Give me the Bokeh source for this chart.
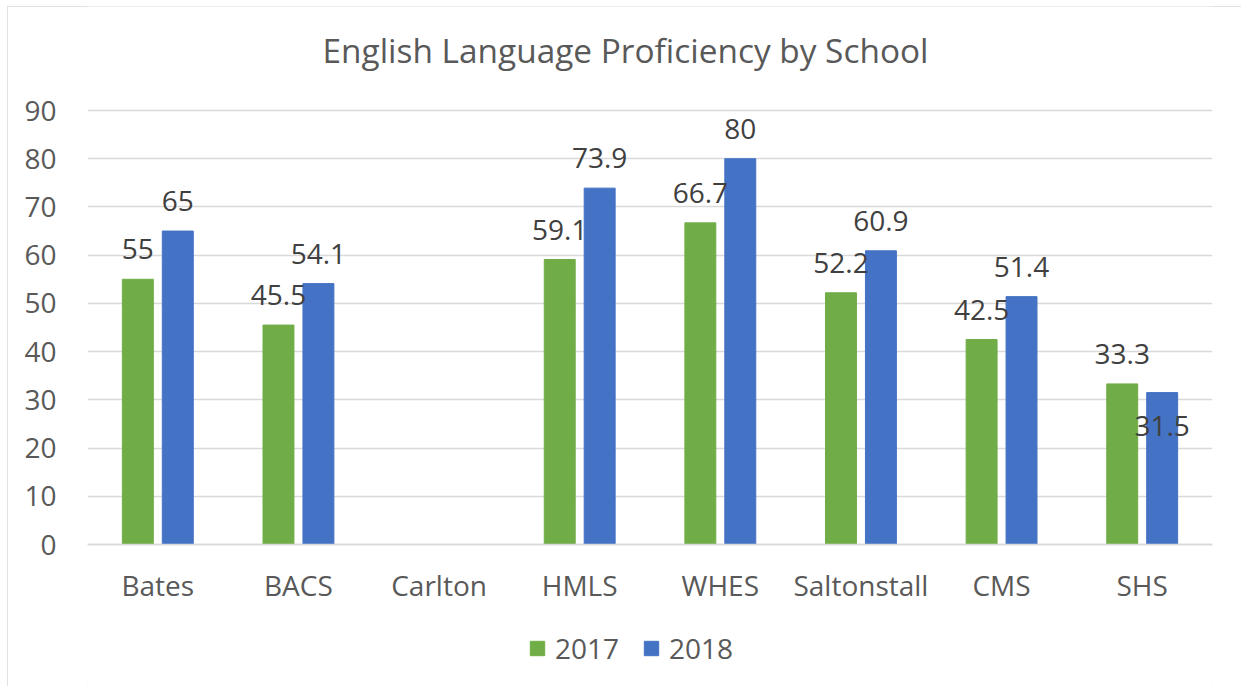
import math
from bokeh.plotting import figure
from bokeh.models import (ColumnDataSource, FactorRange, Range1d, Legend, LegendItem,
                          LabelSet, Label, FixedTicker)
from bokeh.core.properties import value
from bokeh.transform import dodge
from bokeh.embed import file_html
from bokeh.resources import INLINE

nan = float("nan")

title_text = "English Language Proficiency by School"
schools = ["Bates", "BACS", "Carlton", "HMLS", "WHES", "Saltonstall", "CMS", "SHS"]
y2017 = [55, 45.5, nan, 59.1, 66.7, 52.2, 42.5, 33.3]
y2018 = [65, 54.1, nan, 73.9, 80, 60.9, 51.4, 31.5]
series_names = ["2017", "2018"]
y_ticks = [0, 10, 20, 30, 40, 50, 60, 70, 80, 90]

GREEN = "#70AD47"
BLUE = "#4472C4"
FONT = "Open Sans"
TXT = "#595959"
LBL = "#404040"
GRID = "#d9d9d9"

# plot geometry: value axis 0..90 occupies 434px; the frame also holds title and legend space
PX_PER_UNIT = 434 / 90
Y_START = -142 / PX_PER_UNIT
Y_END = 90 + 104 / PX_PER_UNIT


def fmt(v):
    return "" if (v is None or (isinstance(v, float) and math.isnan(v))) else f"{v:g}"


# label offsets (pixels above bar top); the SHS 2018 label sits inside the bar in the original
off17 = [20] * len(schools)
off18 = [20] * len(schools)
off18[schools.index("SHS")] = -43

source = ColumnDataSource(dict(
    school=schools, y2017=y2017, y2018=y2018,
    lab17=[fmt(v) for v in y2017], lab18=[fmt(v) for v in y2018],
    off17=off17, off18=off18,
))

p = figure(x_range=FactorRange(*schools, range_padding=0), y_range=Range1d(Y_START, Y_END),
           frame_width=1125, frame_height=680, output_backend="svg", toolbar_location=None,
           min_border_left=80, min_border_right=29, min_border_top=0, min_border_bottom=0)
p.styles = {"outline": "2px solid #d9d9d9", "outline-offset": "-2px",
            "margin-left": "7px", "margin-top": "6px"}

p.outline_line_color = None
p.background_fill_color = "white"
p.border_fill_color = "white"

BW = 0.22
OFF = 0.142
r1 = p.vbar(x=dodge("school", -OFF, range=p.x_range), top="y2017", width=BW, source=source,
            fill_color=GREEN, line_color=GREEN)
r2 = p.vbar(x=dodge("school", OFF, range=p.x_range), top="y2018", width=BW, source=source,
            fill_color=BLUE, line_color=BLUE)

for col, offcol, sh, ycol in (("lab17", "off17", -OFF, "y2017"), ("lab18", "off18", OFF, "y2018")):
    ls = LabelSet(x=dodge("school", sh, range=p.x_range), y=ycol, text=col, y_offset=offcol,
                  source=source, text_align="center", text_baseline="alphabetic",
                  text_font=value(FONT), text_font_size=value("28px"), text_color=value(LBL))
    p.add_layout(ls)

# title (screen units from frame bottom-left)
p.add_layout(Label(x=235, y=637, x_units="screen", y_units="screen", text=title_text,
                   text_font=FONT, text_font_size="33.4px", text_color=TXT,
                   text_align="left", text_baseline="alphabetic"))

# axes
p.yaxis.ticker = FixedTicker(ticks=y_ticks)
p.yaxis.axis_line_color = None
p.yaxis.major_tick_line_color = None
p.yaxis.minor_tick_line_color = None
p.yaxis.major_label_standoff = 25
p.yaxis.major_label_text_font = FONT
p.yaxis.major_label_text_font_size = "28px"
p.yaxis.major_label_text_color = TXT

p.xaxis.fixed_location = 0
p.xaxis.axis_line_color = GRID
p.xaxis.axis_line_width = 1.5
p.xaxis.major_tick_line_color = None
p.xaxis.minor_tick_line_color = None
p.xaxis.major_label_standoff = 15
p.xaxis.major_label_text_font = FONT
p.xaxis.major_label_text_font_size = "28px"
p.xaxis.major_label_text_color = TXT

p.xgrid.grid_line_color = None
p.ygrid.ticker = FixedTicker(ticks=y_ticks)
p.ygrid.grid_line_color = GRID
p.ygrid.grid_line_width = 1.5

legend = Legend(items=[LegendItem(label=series_names[0], renderers=[r1]),
                       LegendItem(label=series_names[1], renderers=[r2])],
                orientation="horizontal", location=(441, 19),
                padding=0, margin=0, spacing=23, label_standoff=9,
                glyph_width=18, glyph_height=18,
                label_text_font=FONT, label_text_font_size="28px", label_text_color=TXT,
                border_line_color=None, background_fill_alpha=0)
p.add_layout(legend, "center")

open("out.html", "w").write(file_html(p, INLINE))
